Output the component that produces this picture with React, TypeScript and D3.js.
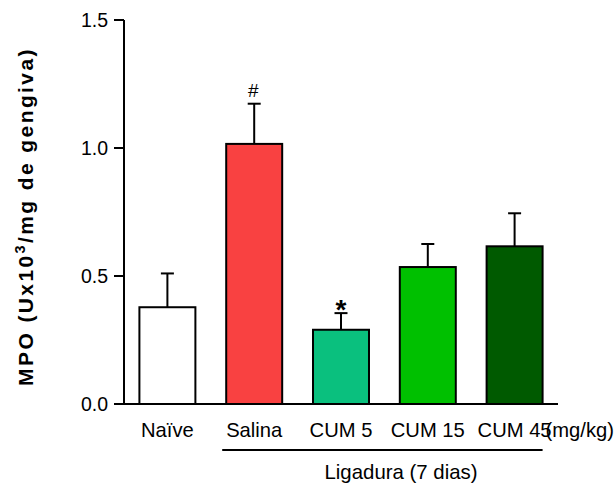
import React from "react";
import * as d3 from "d3";

const categories = ["Naïve", "Salina", "CUM 5", "CUM 15", "CUM 45"];
const means = [0.378, 1.016, 0.29, 0.535, 0.616];
const sems = [0.132, 0.157, 0.065, 0.09, 0.129];
const fills = ["#ffffff", "#f94141", "#0ac07e", "#00c000", "#005a00"];
const marks = ["", "#", "*", "", ""];
const yTicks = [0, 0.5, 1.0, 1.5];

const W = 614;
const H = 484;
const FONT = "'Liberation Sans', Arial, sans-serif";

export default function App() {
  const x = d3
    .scaleBand<string>()
    .domain(categories)
    .range([124, 558])
    .paddingInner(0.355)
    .paddingOuter(0.1775);
  const y = d3.scaleLinear().domain([0, 1.5]).range([404, 20]);
  const bw = x.bandwidth();
  const cap = 13;

  const groupLeft = x("Salina")! - 4;
  const groupRight = x("CUM 45")! + bw;

  return (
    <svg
      width={W}
      height={H}
      viewBox={`0 0 ${W} ${H}`}
      style={{ position: "absolute", left: 0, top: 0, background: "#fff" }}
      fontFamily={FONT}
    >
      {/* bars with upper error bars */}
      {categories.map((c, i) => {
        const x0 = x(c)!;
        const cx = x0 + bw / 2;
        const top = y(means[i]);
        const errTop = y(means[i] + sems[i]);
        return (
          <g key={c}>
            <line x1={cx} x2={cx} y1={top} y2={errTop} stroke="#000" strokeWidth={2} />
            <line x1={cx - cap / 2} x2={cx + cap / 2} y1={errTop} y2={errTop} stroke="#000" strokeWidth={2} />
            <rect
              x={x0}
              y={top}
              width={bw}
              height={y(0) - top}
              fill={fills[i]}
              stroke="#000"
              strokeWidth={2}
            />
            {marks[i] === "#" && (
              <text x={cx - 1} y={errTop - 7} textAnchor="middle" fontSize={19}>
                #
              </text>
            )}
            {marks[i] === "*" && (
              <text x={cx} y={errTop + 6} textAnchor="middle" fontSize={28} fontWeight="bold">
                *
              </text>
            )}
          </g>
        );
      })}

      {/* y axis */}
      <line x1={124} x2={124} y1={y(1.5)} y2={y(0) + 1} stroke="#000" strokeWidth={2} />
      {yTicks.map((t) => (
        <g key={t}>
          <line x1={114} x2={124} y1={y(t)} y2={y(t)} stroke="#000" strokeWidth={2} />
          <text x={108} y={y(t)} dy="0.36em" textAnchor="end" fontSize={19.5}>
            {d3.format(".1f")(t)}
          </text>
        </g>
      ))}

      {/* x axis */}
      <line x1={123} x2={558} y1={y(0)} y2={y(0)} stroke="#000" strokeWidth={2} />
      {categories.map((c) => (
        <text key={c} x={x(c)! + bw / 2} y={437} textAnchor="middle" fontSize={20.2}>
          {c}
        </text>
      ))}
      <text x={614} y={437} textAnchor="end" fontSize={20.2}>
        (mg/kg)
      </text>

      {/* group bracket */}
      <line x1={groupLeft} x2={groupRight} y1={450} y2={450} stroke="#000" strokeWidth={2} />
      <text x={401} y={479} textAnchor="middle" fontSize={20.4}>
        Ligadura (7 dias)
      </text>

      {/* y axis title */}
      <text
        transform={`translate(33, 216.5) rotate(-90)`}
        textAnchor="middle"
        fontSize={21}
        fontWeight="bold"
        letterSpacing={2.4}
      >
        MPO (Ux10
        <tspan dy={-8} fontSize={14.5}>
          3
        </tspan>
        <tspan dy={8}>/mg de gengiva)</tspan>
      </text>
    </svg>
  );
}
